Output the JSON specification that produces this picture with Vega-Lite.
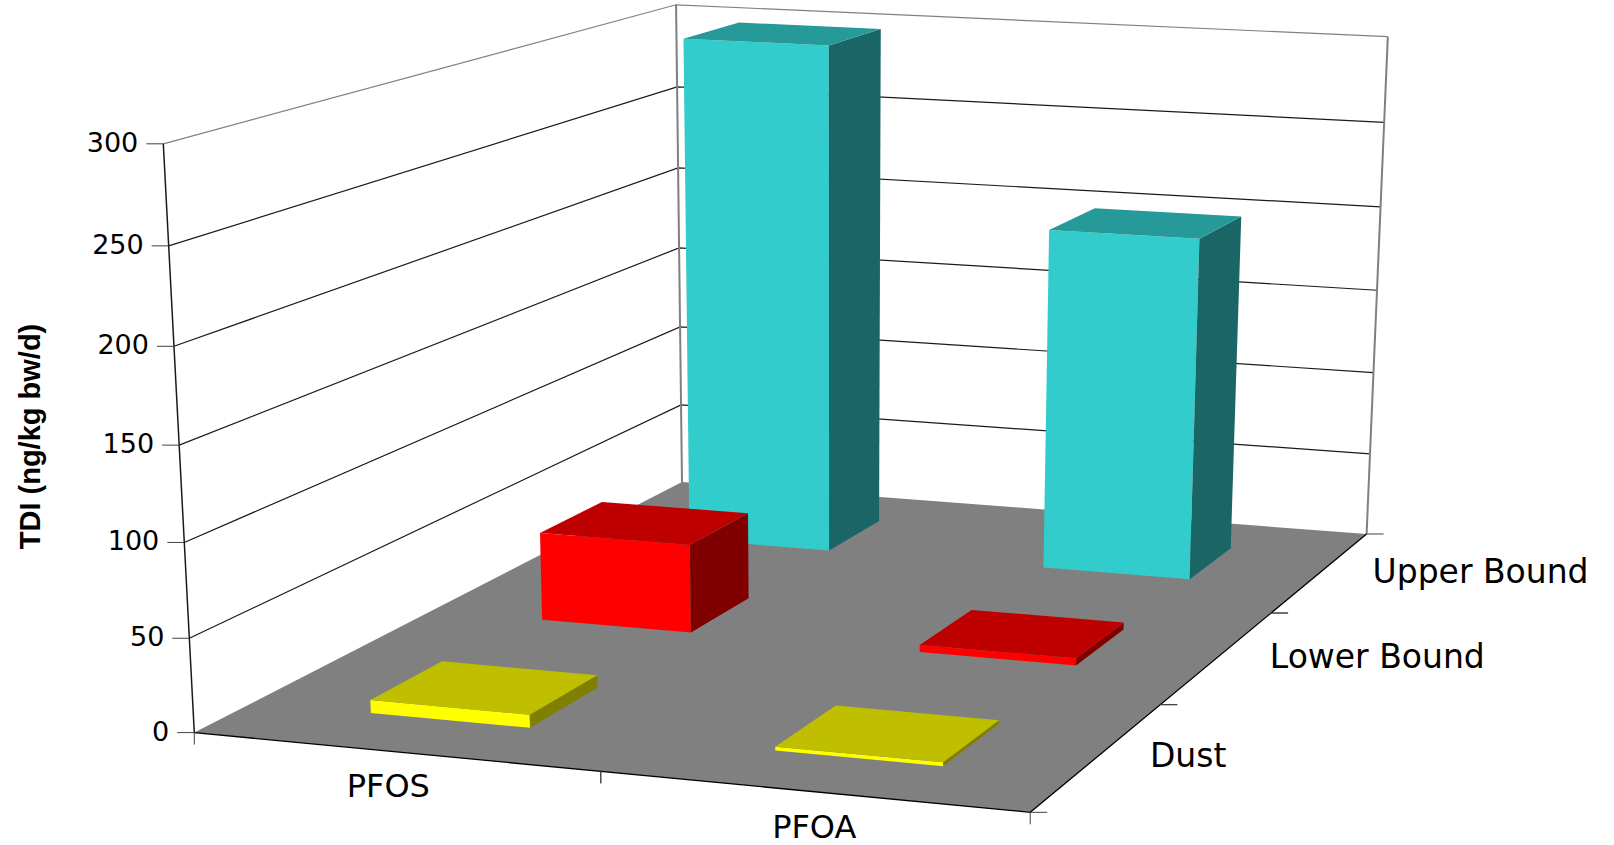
{
  "$schema": "https://vega.github.io/schema/vega-lite/v6.json",
  "width": 1614,
  "height": 845,
  "padding": 0,
  "autosize": {"type": "none"},
  "background": "white",
  "config": {"view": {"stroke": null}},
  "datasets": {
    "bars": [
      {"compound": "PFOS", "source": "Upper Bound", "value": 299},
      {"compound": "PFOA", "source": "Upper Bound", "value": 200},
      {"compound": "PFOS", "source": "Lower Bound", "value": 50},
      {"compound": "PFOA", "source": "Lower Bound", "value": 4},
      {"compound": "PFOS", "source": "Dust", "value": 7},
      {"compound": "PFOA", "source": "Dust", "value": 2}
    ],
    "ticks": [{"tick": 0}, {"tick": 50}, {"tick": 100}, {"tick": 150}, {"tick": 200}, {"tick": 250}, {"tick": 300}],
    "compounds": [{"compound": "PFOS", "i": 0}, {"compound": "PFOA", "i": 1}],
    "sources": [{"source": "Dust", "j": 0}, {"source": "Lower Bound", "j": 1}, {"source": "Upper Bound", "j": 2}],
    "box": [{"part": "floor"}]
  },
  "encoding": {
    "x": {"field": "X", "type": "quantitative", "scale": {"domain": [0, 1614], "nice": false, "zero": false}, "axis": null},
    "y": {
      "field": "Y",
      "type": "quantitative",
      "scale": {"domain": [845, 0], "nice": false, "zero": false},
      "axis": {
        "title": "TDI (ng/kg bw/d)",
        "domain": false,
        "ticks": false,
        "labels": false,
        "grid": false,
        "titleFont": "Liberation Sans",
        "titleFontWeight": "bold",
        "titleFontSize": 29,
        "titleColor": "#000000",
        "titleAngle": 270,
        "titleAlign": "center",
        "titleBaseline": "middle",
        "titleX": 30,
        "titleY": 436
      }
    }
  },
  "layer": [
    {
      "description": "Grey floor of the 3D box",
      "data": {"name": "box"},
      "transform": [
        {"calculate": "[0,1,2,3]", "as": "corner"},
        {"flatten": ["corner"]},
        {"calculate": "datum.corner==1||datum.corner==2?1:0", "as": "pu"},
        {"calculate": "datum.corner>=2?1:0", "as": "pv"},
        {"calculate": "0", "as": "pw"},
        {"calculate": "(780.95*datum.pu+656.3*datum.pv-38.5*datum.pw+194.3)/(-0.05334*datum.pu+0.24722*datum.pv-0.046*datum.pw+1)", "as": "X"},
        {"calculate": "(36.37*datum.pu-131.44*datum.pv-595.4*datum.pw+732.6)/(-0.05334*datum.pu+0.24722*datum.pv-0.046*datum.pw+1)", "as": "Y"}
      ],
      "mark": {"type": "line", "filled": true, "fill": "#808080"},
      "encoding": {"order": {"field": "corner", "type": "quantitative"}}
    },
    {
      "description": "Value gridlines running along the left and back walls",
      "data": {"name": "ticks"},
      "transform": [
        {"filter": "datum.tick>0"},
        {"calculate": "[0,1,2]", "as": "corner"},
        {"flatten": ["corner"]},
        {"calculate": "datum.corner==2?1:0", "as": "pu"},
        {"calculate": "datum.corner==0?0:1", "as": "pv"},
        {"calculate": "datum.tick/300", "as": "pw"},
        {"calculate": "(780.95*datum.pu+656.3*datum.pv-38.5*datum.pw+194.3)/(-0.05334*datum.pu+0.24722*datum.pv-0.046*datum.pw+1)", "as": "X"},
        {"calculate": "(36.37*datum.pu-131.44*datum.pv-595.4*datum.pw+732.6)/(-0.05334*datum.pu+0.24722*datum.pv-0.046*datum.pw+1)", "as": "Y"}
      ],
      "mark": {"type": "line", "strokeWidth": 1.2},
      "encoding": {
        "detail": {"field": "tick", "type": "nominal"},
        "order": {"field": "corner", "type": "quantitative"},
        "stroke": {"condition": {"test": "datum.tick==300", "value": "#808080"}, "value": "#1a1a1a"}
      }
    },
    {
      "description": "Vertical edges of the back wall",
      "data": {"name": "compounds"},
      "transform": [
        {"calculate": "[0,1]", "as": "corner"},
        {"flatten": ["corner"]},
        {"calculate": "datum.i", "as": "pu"},
        {"calculate": "1", "as": "pv"},
        {"calculate": "datum.corner", "as": "pw"},
        {"calculate": "(780.95*datum.pu+656.3*datum.pv-38.5*datum.pw+194.3)/(-0.05334*datum.pu+0.24722*datum.pv-0.046*datum.pw+1)", "as": "X"},
        {"calculate": "(36.37*datum.pu-131.44*datum.pv-595.4*datum.pw+732.6)/(-0.05334*datum.pu+0.24722*datum.pv-0.046*datum.pw+1)", "as": "Y"}
      ],
      "mark": {"type": "line", "stroke": "#808080", "strokeWidth": 2},
      "encoding": {
        "detail": {"field": "i", "type": "nominal"},
        "order": {"field": "corner", "type": "quantitative"}
      }
    },
    {
      "description": "Front and right floor edges",
      "data": {"name": "box"},
      "transform": [
        {"calculate": "[0,1,2]", "as": "corner"},
        {"flatten": ["corner"]},
        {"calculate": "datum.corner==0?0:1", "as": "pu"},
        {"calculate": "datum.corner==2?1:0", "as": "pv"},
        {"calculate": "0", "as": "pw"},
        {"calculate": "(780.95*datum.pu+656.3*datum.pv-38.5*datum.pw+194.3)/(-0.05334*datum.pu+0.24722*datum.pv-0.046*datum.pw+1)", "as": "X"},
        {"calculate": "(36.37*datum.pu-131.44*datum.pv-595.4*datum.pw+732.6)/(-0.05334*datum.pu+0.24722*datum.pv-0.046*datum.pw+1)", "as": "Y"}
      ],
      "mark": {"type": "line", "stroke": "#000000", "strokeWidth": 1.3},
      "encoding": {"order": {"field": "corner", "type": "quantitative"}}
    },
    {
      "description": "Value axis line",
      "data": {"name": "ticks"},
      "transform": [
        {"calculate": "0", "as": "pu"},
        {"calculate": "0", "as": "pv"},
        {"calculate": "datum.tick/300", "as": "pw"},
        {"calculate": "(780.95*datum.pu+656.3*datum.pv-38.5*datum.pw+194.3)/(-0.05334*datum.pu+0.24722*datum.pv-0.046*datum.pw+1)", "as": "X"},
        {"calculate": "(36.37*datum.pu-131.44*datum.pv-595.4*datum.pw+732.6)/(-0.05334*datum.pu+0.24722*datum.pv-0.046*datum.pw+1)", "as": "Y"}
      ],
      "mark": {"type": "line", "stroke": "#1a1a1a", "strokeWidth": 1.5},
      "encoding": {"order": {"field": "tick", "type": "quantitative"}}
    },
    {
      "description": "Value axis ticks",
      "data": {"name": "ticks"},
      "transform": [
        {"calculate": "0", "as": "pu"},
        {"calculate": "0", "as": "pv"},
        {"calculate": "datum.tick/300", "as": "pw"},
        {"calculate": "(780.95*datum.pu+656.3*datum.pv-38.5*datum.pw+194.3)/(-0.05334*datum.pu+0.24722*datum.pv-0.046*datum.pw+1)", "as": "X"},
        {"calculate": "(36.37*datum.pu-131.44*datum.pv-595.4*datum.pw+732.6)/(-0.05334*datum.pu+0.24722*datum.pv-0.046*datum.pw+1)", "as": "Y"},
        {"calculate": "datum.X-17", "as": "Xend"}
      ],
      "mark": {"type": "rule", "stroke": "#404040", "strokeWidth": 1},
      "encoding": {"x2": {"field": "Xend"}}
    },
    {
      "description": "Value axis labels",
      "data": {"name": "ticks"},
      "transform": [
        {"calculate": "0", "as": "pu"},
        {"calculate": "0", "as": "pv"},
        {"calculate": "datum.tick/300", "as": "pw"},
        {"calculate": "(780.95*datum.pu+656.3*datum.pv-38.5*datum.pw+194.3)/(-0.05334*datum.pu+0.24722*datum.pv-0.046*datum.pw+1)", "as": "X"},
        {"calculate": "(36.37*datum.pu-131.44*datum.pv-595.4*datum.pw+732.6)/(-0.05334*datum.pu+0.24722*datum.pv-0.046*datum.pw+1)", "as": "Y"}
      ],
      "mark": {"type": "text", "font": "DejaVu Sans", "fontSize": 27, "align": "right", "baseline": "middle", "dx": -25, "color": "#000000"},
      "encoding": {"text": {"field": "tick", "type": "quantitative"}}
    },
    {
      "description": "Ticks under the front floor edge",
      "data": {"name": "compounds"},
      "transform": [
        {"calculate": "[datum.i,datum.i+1]", "as": "edge"},
        {"flatten": ["edge"]},
        {"calculate": "datum.edge/2", "as": "pu"},
        {"calculate": "0", "as": "pv"},
        {"calculate": "0", "as": "pw"},
        {"calculate": "(780.95*datum.pu+656.3*datum.pv-38.5*datum.pw+194.3)/(-0.05334*datum.pu+0.24722*datum.pv-0.046*datum.pw+1)", "as": "X"},
        {"calculate": "(36.37*datum.pu-131.44*datum.pv-595.4*datum.pw+732.6)/(-0.05334*datum.pu+0.24722*datum.pv-0.046*datum.pw+1)", "as": "Y"},
        {"calculate": "datum.Y+12", "as": "Yend"}
      ],
      "mark": {"type": "rule", "stroke": "#404040", "strokeWidth": 1},
      "encoding": {"y2": {"field": "Yend"}}
    },
    {
      "description": "Ticks beside the right floor edge",
      "data": {"name": "sources"},
      "transform": [
        {"calculate": "[datum.j,datum.j+1]", "as": "edge"},
        {"flatten": ["edge"]},
        {"calculate": "1", "as": "pu"},
        {"calculate": "datum.edge/3", "as": "pv"},
        {"calculate": "0", "as": "pw"},
        {"calculate": "(780.95*datum.pu+656.3*datum.pv-38.5*datum.pw+194.3)/(-0.05334*datum.pu+0.24722*datum.pv-0.046*datum.pw+1)", "as": "X"},
        {"calculate": "(36.37*datum.pu-131.44*datum.pv-595.4*datum.pw+732.6)/(-0.05334*datum.pu+0.24722*datum.pv-0.046*datum.pw+1)", "as": "Y"},
        {"calculate": "datum.X+17", "as": "Xend"}
      ],
      "mark": {"type": "rule", "stroke": "#404040", "strokeWidth": 1},
      "encoding": {"x2": {"field": "Xend"}}
    },
    {
      "description": "Bars, drawn back to front, each as front, side and top faces",
      "data": {"name": "bars"},
      "transform": [
        {"calculate": "datum.compound=='PFOS'?0:1", "as": "i"},
        {"calculate": "indexof(['Dust','Lower Bound','Upper Bound'],datum.source)", "as": "j"},
        {"calculate": "(datum.i+0.5)/2-0.1", "as": "u0"},
        {"calculate": "datum.u0+0.2", "as": "u1"},
        {"calculate": "(datum.j+0.5)/3-0.0667", "as": "v0"},
        {"calculate": "datum.v0+0.1333", "as": "v1"},
        {"calculate": "datum.value/300", "as": "w"},
        {"calculate": "[0,1,2]", "as": "face"},
        {"flatten": ["face"]},
        {"calculate": "[0,1,2,3]", "as": "corner"},
        {"flatten": ["corner"]},
        {"calculate": "datum.face==1?datum.u1:(datum.corner==0||datum.corner==3?datum.u0:datum.u1)", "as": "pu"},
        {"calculate": "datum.face==0?datum.v0:datum.face==1?(datum.corner==0||datum.corner==3?datum.v0:datum.v1):(datum.corner<=1?datum.v0:datum.v1)", "as": "pv"},
        {"calculate": "datum.face==2||datum.corner>=2?datum.w:0", "as": "pw"},
        {"calculate": "(780.95*datum.pu+656.3*datum.pv-38.5*datum.pw+194.3)/(-0.05334*datum.pu+0.24722*datum.pv-0.046*datum.pw+1)", "as": "X"},
        {"calculate": "(36.37*datum.pu-131.44*datum.pv-595.4*datum.pw+732.6)/(-0.05334*datum.pu+0.24722*datum.pv-0.046*datum.pw+1)", "as": "Y"},
        {"calculate": "datum.source+' '+datum.face", "as": "shade"},
        {"calculate": "datum.compound+' '+datum.source+' '+datum.face", "as": "faceId"}
      ],
      "mark": {"type": "line", "filled": true},
      "encoding": {
        "detail": {"field": "faceId", "type": "nominal"},
        "order": {"field": "corner", "type": "quantitative"},
        "fill": {
          "field": "shade",
          "type": "nominal",
          "legend": null,
          "scale": {
            "domain": ["Upper Bound 0", "Upper Bound 1", "Upper Bound 2", "Lower Bound 0", "Lower Bound 1", "Lower Bound 2", "Dust 0", "Dust 1", "Dust 2"],
            "range": ["#33CCCC", "#1A6666", "#269999", "#FF0000", "#800000", "#BF0000", "#FFFF00", "#808000", "#BFBF00"]
          }
        }
      }
    },
    {
      "description": "Compound labels below the front edge",
      "data": {"name": "compounds"},
      "transform": [
        {"calculate": "0.242+0.51*datum.i", "as": "pu"},
        {"calculate": "0", "as": "pv"},
        {"calculate": "0", "as": "pw"},
        {"calculate": "(780.95*datum.pu+656.3*datum.pv-38.5*datum.pw+194.3)/(-0.05334*datum.pu+0.24722*datum.pv-0.046*datum.pw+1)", "as": "X"},
        {"calculate": "(36.37*datum.pu-131.44*datum.pv-595.4*datum.pw+732.6)/(-0.05334*datum.pu+0.24722*datum.pv-0.046*datum.pw+1)", "as": "Y"}
      ],
      "mark": {"type": "text", "font": "DejaVu Sans", "fontSize": 32, "align": "center", "baseline": "middle", "dy": 36, "color": "#000000"},
      "encoding": {"text": {"field": "compound", "type": "nominal"}}
    },
    {
      "description": "Source labels beside the right edge",
      "data": {"name": "sources"},
      "transform": [
        {"calculate": "1", "as": "pu"},
        {"calculate": "(datum.j+0.5)/3", "as": "pv"},
        {"calculate": "0", "as": "pw"},
        {"calculate": "(780.95*datum.pu+656.3*datum.pv-38.5*datum.pw+194.3)/(-0.05334*datum.pu+0.24722*datum.pv-0.046*datum.pw+1)", "as": "X"},
        {"calculate": "(36.37*datum.pu-131.44*datum.pv-595.4*datum.pw+732.6)/(-0.05334*datum.pu+0.24722*datum.pv-0.046*datum.pw+1)", "as": "Y"}
      ],
      "mark": {"type": "text", "font": "DejaVu Sans", "fontSize": 33, "align": "left", "baseline": "middle", "dx": 52, "dy": 1, "color": "#000000"},
      "encoding": {"text": {"field": "source", "type": "nominal"}}
    }
  ]
}
